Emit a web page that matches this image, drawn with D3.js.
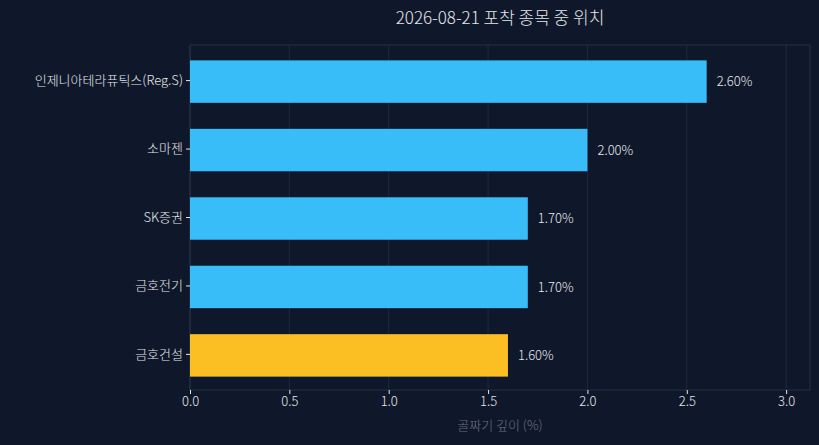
<!DOCTYPE html>
<html><head><meta charset="utf-8">
<script src="https://cdn.jsdelivr.net/npm/d3@7"></script>
<style>body{margin:0;background:#0f172a;}svg{display:block;font-family:"Noto Sans CJK KR","Noto Sans",sans-serif;}</style>
</head><body><div id="chart"></div>
<script>
var names = ["인제니아테라퓨틱스(Reg.S)", "소마젠", "SK증권", "금호전기", "금호건설"];
var values = [2.6, 2.0, 1.7, 1.7, 1.6];
var colors = ["#38bdf8", "#38bdf8", "#38bdf8", "#38bdf8", "#fbbf24"];
var ticks = [0, 0.5, 1.0, 1.5, 2.0, 2.5, 3.0];

var W = 819, H = 445;
var margin = {top: 45, right: 9, bottom: 55, left: 190};
var w = W - margin.left - margin.right, h = H - margin.top - margin.bottom;

var svg = d3.select("#chart").append("svg").attr("width", W).attr("height", H);
svg.append("rect").attr("width", W).attr("height", H).attr("fill", "#0f172a");
var g = svg.append("g").attr("transform", "translate(" + margin.left + "," + margin.top + ")");

var x = d3.scaleLinear().domain([0, 3.12]).range([0, w]);
var y = d3.scaleBand().domain(names).range([0, h]).paddingInner(0.38).paddingOuter(0.21);

g.selectAll(".grid").data(ticks).enter().append("line")
  .attr("x1", d => x(d)).attr("x2", d => x(d)).attr("y1", 0).attr("y2", h)
  .attr("stroke", "#1f2a3d").attr("stroke-width", 1);
g.append("rect").attr("width", w).attr("height", h).attr("fill", "none").attr("stroke", "#273248");

g.selectAll(".bar").data(names).enter().append("rect")
  .attr("x", x(0)).attr("y", d => y(d) + 1).attr("height", y.bandwidth())
  .attr("width", (d, i) => x(values[i]) - x(0)).attr("fill", (d, i) => colors[i]);

g.selectAll(".val").data(names).enter().append("text")
  .attr("x", (d, i) => x(values[i]) + 10).attr("y", d => y(d) + 1 + y.bandwidth() / 2)
  .attr("dy", "0.35em").attr("fill", "#e5e7eb").attr("font-size", 13).attr("font-weight", 300)
  .text((d, i) => values[i].toFixed(2) + "%");

var xa = g.append("g").attr("transform", "translate(0," + h + ")")
  .call(d3.axisBottom(x).tickValues(ticks).tickFormat(d3.format(".1f")).tickSize(4));
var ya = g.append("g").call(d3.axisLeft(y).tickSize(4));
[xa, ya].forEach(a => {
  a.select(".domain").remove();
  a.selectAll("line").attr("stroke", "#e5e7eb");
  a.selectAll("text").attr("fill", "#e5e7eb").attr("font-size", 13).attr("font-weight", 300)
    .attr("font-family", "\"Noto Sans CJK KR\",sans-serif");
});

svg.append("text").attr("x", margin.left + w / 2).attr("y", 24).attr("text-anchor", "middle")
  .attr("fill", "#e5e7eb").attr("font-size", 17).attr("font-weight", 300).text("2026-08-21 포착 종목 중 위치");
svg.append("text").attr("x", margin.left + w / 2).attr("y", 430).attr("text-anchor", "middle")
  .attr("fill", "#6b7280").attr("font-size", 13).attr("font-weight", 300).text("골짜기 깊이 (%)");
</script></body></html>
